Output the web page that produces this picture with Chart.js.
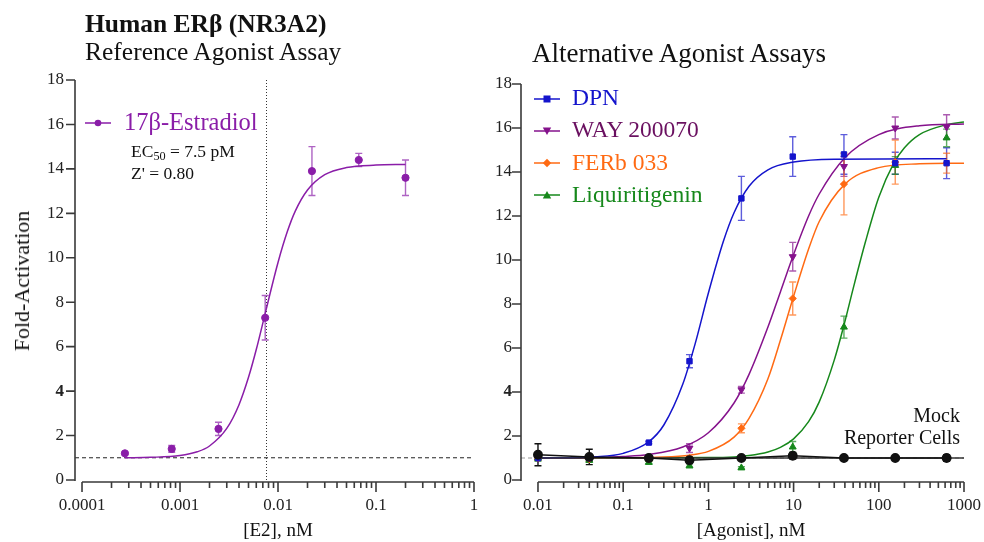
<!DOCTYPE html>
<html>
<head>
<meta charset="utf-8">
<script src="https://cdn.jsdelivr.net/npm/chart.js@4.4.1/dist/chart.umd.min.js"></script>
<style>
  body { margin: 0; background: #fff; }
  #wrap { position: relative; width: 984px; height: 542px; overflow: hidden;
          font-family: "Liberation Serif", "Times New Roman", serif; color: #111; }
  canvas { position: absolute; top: 0; }
  .t { position: absolute; white-space: nowrap; line-height: 1; }
  .t sub { font-size: 0.7em; vertical-align: -0.25em; line-height: 0; }
</style>
</head>
<body>
<div id="wrap">
  <canvas id="leftChart" width="480" height="542" style="left:0"></canvas>
  <canvas id="rightChart" width="504" height="542" style="left:480px"></canvas>

  <div class="t" style="left:85px;top:11px;font-size:25.5px;font-weight:bold">Human ERβ (NR3A2)</div>
  <div class="t" style="left:85px;top:39px;font-size:25.5px">Reference Agonist Assay</div>
  <div class="t" style="left:532px;top:40px;font-size:27px">Alternative Agonist Assays</div>

  <div class="t" style="left:131px;top:143px;font-size:17.5px">EC<sub>50</sub> = 7.5 pM</div>
  <div class="t" style="left:131px;top:165px;font-size:17.5px">Z' = 0.80</div>

  <div class="t" style="left:960px;top:405px;font-size:20px;transform:translateX(-100%);text-align:right">Mock</div>
  <div class="t" style="left:960px;top:427px;font-size:20px;transform:translateX(-100%);text-align:right">Reporter Cells</div>

  <div class="t" style="left:22px;top:281px;font-size:22px;transform:translate(-50%,-50%) rotate(-90deg)">Fold-Activation</div>
  <div class="t" style="left:278px;top:520px;font-size:19px;transform:translateX(-50%)">[E2], nM</div>
  <div class="t" style="left:751px;top:520px;font-size:19px;transform:translateX(-50%)">[Agonist], nM</div>
</div>

<script>
// ---- left panel: 17b-estradiol reference ----
const e2Conc = [0.000274, 0.000823, 0.00247, 0.0074, 0.0222, 0.0667, 0.2];
const e2Fold = [1.2, 1.4, 2.3, 7.3, 13.9, 14.4, 13.6];
const e2Err = [0.05, 0.15, 0.3, 1.0, 1.1, 0.3, 0.8];
// fitted curve
const e2CurveX = [0.000274, 0.0005, 0.001, 0.0015, 0.002, 0.003, 0.004, 0.005, 0.006, 0.0075, 0.01, 0.0125, 0.015, 0.02, 0.03, 0.05, 0.1, 0.2];
const e2CurveY = [1.0, 1.02, 1.1, 1.27, 1.53, 2.32, 3.39, 4.62, 5.87, 7.6, 9.79, 11.2, 12.1, 13.05, 13.74, 14.06, 14.17, 14.2];
const e2EC50 = 0.0075;
const e2Ticks = [0.0001, 0.001, 0.01, 0.1, 1];

// ---- right panel: alternative agonists ----
const agoConc = [0.01, 0.04, 0.2, 0.6, 2.44, 9.77, 39, 156, 625];
const dpnFold = [1.0, 1.0, 1.7, 5.4, 12.8, 14.7, 14.8, 14.4, 14.4];
const dpnErr = [0.1, 0.1, 0.05, 0.3, 1.0, 0.9, 0.9, 0.5, 0.7];
const wayFold = [1.0, 1.0, 1.0, 1.45, 4.1, 10.15, 14.25, 16.0, 16.05];
const wayErr = [0.05, 0.05, 0.05, 0.2, 0.15, 0.65, 0.45, 0.5, 0.55];
const ferbFold = [1.0, 0.95, 0.95, 1.0, 2.35, 8.25, 13.45, 14.45, 14.4];
const ferbErr = [0.1, 0.1, 0.1, 0.05, 0.2, 0.75, 1.4, 1.0, 0.45];
const liqFold = [1.0, 0.9, 0.8, 0.65, 0.55, 1.5, 6.95, 14.3, 15.55];
const liqErr = [0.15, 0.1, 0.05, 0.1, 0.05, 0.25, 0.5, 0.4, 0.4];
const mockFold = [1.15, 1.05, 1.0, 0.9, 1.0, 1.1, 1.0, 1.0, 1.0];
const mockErr = [0.5, 0.35, 0.1, 0.15, 0.05, 0.15, 0.05, 0.05, 0.15];

const dpnCurveX = [0.01, 0.05, 0.1, 0.2, 0.3, 0.5, 0.7, 1, 1.5, 2, 3, 5, 10, 30, 625];
const dpnCurveY = [1.0, 1.06, 1.21, 1.74, 2.5, 4.35, 6.2, 8.5, 10.85, 12.15, 13.35, 14.1, 14.45, 14.58, 14.6];
const wayCurveX = [0.01, 0.05, 0.1, 0.2, 0.5, 1, 2, 3, 5, 7, 10, 15, 20, 40, 100, 300, 1000];
const wayCurveY = [1.0, 1.03, 1.07, 1.16, 1.5, 2.15, 3.5, 4.8, 6.95, 8.55, 10.25, 12.0, 13.0, 14.65, 15.7, 16.1, 16.18];
const ferbCurveX = [0.01, 0.1, 0.3, 0.6, 1, 2, 3, 5, 7, 10, 15, 20, 40, 100, 300, 1000];
const ferbCurveY = [1.0, 1.01, 1.04, 1.13, 1.3, 1.95, 2.8, 4.6, 6.35, 8.35, 10.5, 11.75, 13.45, 14.2, 14.37, 14.4];
const liqCurveX = [0.01, 1, 2, 3, 5, 7, 10, 15, 20, 30, 40, 50, 70, 100, 150, 200, 300, 625, 1000];
const liqCurveY = [1.0, 1.02, 1.05, 1.11, 1.27, 1.48, 1.87, 2.65, 3.55, 5.45, 7.2, 8.7, 10.85, 12.85, 14.4, 15.1, 15.7, 16.15, 16.27];
const mockFitX = [0.01, 1000];
const mockFitY = [1.0, 1.0];
const agoTicks = [0.01, 0.1, 1, 10, 100, 1000];

const yTicksMax = 18;
const yStep = 2;
const baseline = 1;

const FONT = "'Liberation Serif', 'Times New Roman', serif";
const PURPLE = '#8A1DA8', BLUE = '#1414CC', WAY = '#85128C', ORANGE = '#FF6A13', GREEN = '#16881B';

function pts(xs, ys) { return xs.map((x, i) => ({ x: x, y: ys[i] })); }

function pointSet(label, xs, ys, errs, color, style, extra) {
  return Object.assign({
    label: label, data: pts(xs, ys), errors: errs,
    errorColor: color + 'B0',
    showLine: false, pointStyle: style, pointRadius: 3.6,
    backgroundColor: color, borderColor: color, borderWidth: 1
  }, extra || {});
}

function curveSet(xs, ys, color, width) {
  return {
    data: pts(xs, ys), showLine: true, pointRadius: 0,
    borderColor: color, borderWidth: width || 1.5,
    cubicInterpolationMode: 'monotone', fill: false
  };
}

// draws prism-like offset axes plus the reference lines
function makeAxes(xTicks, vline, baseColor) {
  return {
    id: 'prismAxes',
    beforeDatasetsDraw(chart) {
      const ctx = chart.ctx, x = chart.scales.x, y = chart.scales.y, area = chart.chartArea;
      ctx.save();
      ctx.lineWidth = 1;
      ctx.strokeStyle = baseColor;
      ctx.setLineDash([4, 3]);
      const yb = y.getPixelForValue(baseline);
      ctx.beginPath(); ctx.moveTo(area.left, yb); ctx.lineTo(area.right, yb); ctx.stroke();
      if (vline) {
        ctx.strokeStyle = '#333';
        ctx.setLineDash([1, 2]);
        const xv = Math.round(x.getPixelForValue(vline)) + 0.5;
        ctx.beginPath(); ctx.moveTo(xv, y.getPixelForValue(yTicksMax)); ctx.lineTo(xv, y.getPixelForValue(0)); ctx.stroke();
      }
      ctx.setLineDash([]);
      ctx.strokeStyle = '#3a3a3a';
      ctx.lineWidth = 1.6;
      const x0 = area.left;
      ctx.beginPath();
      ctx.moveTo(x0, y.getPixelForValue(0) + 1); ctx.lineTo(x0, y.getPixelForValue(yTicksMax));
      for (let v = 0; v <= yTicksMax; v += yStep) {
        const p = y.getPixelForValue(v);
        ctx.moveTo(x0, p); ctx.lineTo(x0 - 9, p);
      }
      ctx.stroke();
      const yAx = area.bottom + 2;
      const last = xTicks.length - 1;
      ctx.beginPath();
      ctx.moveTo(x.getPixelForValue(xTicks[0]), yAx); ctx.lineTo(x.getPixelForValue(xTicks[last]), yAx);
      xTicks.forEach((d, i) => {
        const p = x.getPixelForValue(d);
        ctx.moveTo(p, yAx); ctx.lineTo(p, yAx + 10);
        if (i < last) {
          for (let m = 2; m <= 9; m++) {
            const q = x.getPixelForValue(d * m);
            ctx.moveTo(q, yAx); ctx.lineTo(q, yAx + 6);
          }
        }
      });
      ctx.stroke();
      ctx.restore();
    }
  };
}

const errorBars = {
  id: 'errorBars',
  beforeDatasetsDraw(chart) {
    const ctx = chart.ctx, y = chart.scales.y;
    chart.data.datasets.forEach((ds, i) => {
      if (!ds.errors) return;
      const meta = chart.getDatasetMeta(i);
      ctx.save();
      ctx.strokeStyle = ds.errorColor;
      ctx.lineWidth = 1.4;
      meta.data.forEach((pt, j) => {
        const e = ds.errors[j];
        if (!e) return;
        const v = ds.data[j].y;
        const top = y.getPixelForValue(v + e), bot = y.getPixelForValue(v - e);
        ctx.beginPath();
        ctx.moveTo(pt.x, top); ctx.lineTo(pt.x, bot);
        ctx.moveTo(pt.x - 3.5, top); ctx.lineTo(pt.x + 3.5, top);
        ctx.moveTo(pt.x - 3.5, bot); ctx.lineTo(pt.x + 3.5, bot);
        ctx.stroke();
      });
      ctx.restore();
    });
  }
};

function chartOptions(xMin, xMax, xTicks, yWidth, yPad, padRight, padTop) {
  return {
    responsive: false,
    animation: false,
    layout: { padding: { top: padTop, right: padRight, left: 0, bottom: 0 } },
    plugins: { legend: { display: false }, tooltip: { enabled: false } },
    scales: {
      x: {
        type: 'logarithmic', min: xMin, max: xMax,
        afterBuildTicks: s => { s.ticks = xTicks.map(v => ({ value: v })); },
        afterFit: s => { s.height = 62; },
        grid: { display: false, drawTicks: false },
        border: { display: false },
        ticks: {
          callback: v => String(v), autoSkip: false, maxRotation: 0,
          // labels pushed below the offset axis through the line height
          padding: 0, color: '#222', font: { family: FONT, size: 17, lineHeight: 2.95 }
        }
      },
      y: {
        min: 0, max: yTicksMax,
        afterFit: s => { s.width = yWidth; },
        grid: { display: false, drawTicks: false },
        border: { display: false },
        ticks: {
          stepSize: yStep, padding: yPad, color: '#222',
          font: c => ({ family: FONT, size: 17, weight: (c.tick && c.tick.value === 4) ? 'bold' : 'normal' })
        }
      }
    }
  };
}

new Chart(document.getElementById('leftChart'), {
  type: 'scatter',
  data: {
    datasets: [
      pointSet('17β-Estradiol', e2Conc, e2Fold, e2Err, PURPLE, 'circle', { order: 0 }),
      Object.assign(curveSet(e2CurveX, e2CurveY, PURPLE), { order: 1 })
    ]
  },
  options: chartOptions(8.48e-5, 1, e2Ticks, 75, 11, 6, 80),
  plugins: [makeAxes(e2Ticks, e2EC50, '#222'), errorBars]
});

new Chart(document.getElementById('rightChart'), {
  type: 'scatter',
  data: {
    datasets: [
      pointSet('Mock Reporter Cells', agoConc, mockFold, mockErr, '#111111', 'circle',
        { order: 0, showLine: true, borderWidth: 1.5, pointRadius: 4.2, errorColor: '#111111' }),
      Object.assign(curveSet(mockFitX, mockFitY, '#333333'), { order: 1 }),
      pointSet('DPN', agoConc, dpnFold, dpnErr, BLUE, 'rect', { order: 2, pointRadius: 3.8 }),
      pointSet('WAY 200070', agoConc, wayFold, wayErr, WAY, 'triangle', { order: 3, pointRotation: 180, pointRadius: 4 }),
      pointSet('FERb 033', agoConc, ferbFold, ferbErr, ORANGE, 'rectRot', { order: 4 }),
      pointSet('Liquiritigenin', agoConc, liqFold, liqErr, GREEN, 'triangle', { order: 5, pointRadius: 4 }),
      Object.assign(curveSet(dpnCurveX, dpnCurveY, BLUE), { order: 6 }),
      Object.assign(curveSet(wayCurveX, wayCurveY, WAY), { order: 7 }),
      Object.assign(curveSet(ferbCurveX, ferbCurveY, ORANGE), { order: 8 }),
      Object.assign(curveSet(liqCurveX, liqCurveY, GREEN), { order: 9 })
    ]
  },
  options: chartOptions(0.00632, 1000, agoTicks, 41, 9, 20, 84),
  plugins: [makeAxes(agoTicks, null, '#999'), errorBars]
});

// ---- legends (line + marker + name), HTML text ----
const shapes = {
  circle: '<circle cx="13" cy="6" r="3.3"/>',
  rect: '<rect x="9.5" y="2.5" width="7" height="7"/>',
  triDown: '<polygon points="8.8,2.6 17.2,2.6 13,10"/>',
  diamond: '<polygon points="13,1.8 17.2,6 13,10.2 8.8,6"/>',
  triUp: '<polygon points="13,2 17.2,9.4 8.8,9.4"/>'
};
function legendItem(name, color, textColor, shape, left, midY, textLeft, size) {
  const wrap = document.getElementById('wrap');
  const svg = document.createElementNS('http://www.w3.org/2000/svg', 'svg');
  svg.setAttribute('width', '26'); svg.setAttribute('height', '12');
  svg.style.cssText = 'position:absolute;left:' + left + 'px;top:' + (midY - 6) + 'px';
  svg.innerHTML = '<line x1="0" y1="6" x2="26" y2="6" stroke="' + color + '" stroke-width="1.5"/>' +
    '<g fill="' + color + '">' + shapes[shape] + '</g>';
  wrap.appendChild(svg);
  const d = document.createElement('div');
  d.className = 't';
  d.style.cssText = 'left:' + textLeft + 'px;top:' + (midY - 0.52 * size) + 'px;font-size:' + size + 'px;color:' + textColor;
  d.textContent = name;
  wrap.appendChild(d);
}
legendItem('17β-Estradiol', PURPLE, PURPLE, 'circle', 85, 123, 124, 24.5);
const rightNames = ['DPN', 'WAY 200070', 'FERb 033', 'Liquiritigenin'];
const rightColors = [BLUE, WAY, ORANGE, GREEN];
const rightText = [BLUE, '#6A1060', ORANGE, GREEN];
const rightShapes = ['rect', 'triDown', 'diamond', 'triUp'];
rightNames.forEach((n, i) => legendItem(n, rightColors[i], rightText[i], rightShapes[i], 534, 98.5 + i * 32.2, 572, 23.5));
</script>
</body>
</html>
